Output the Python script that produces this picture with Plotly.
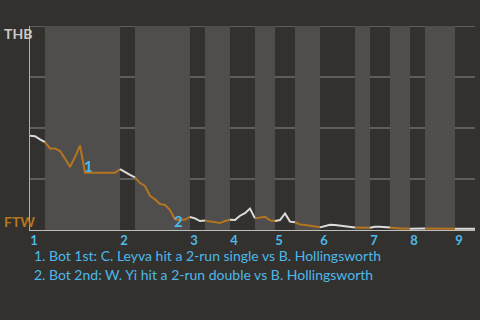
import plotly.graph_objects as go

# Win probability for THB (percent) after each plate appearance
wp = [46.2, 46.0, 44.4, 43.1, 40.0, 40.0, 38.7, 35.0, 30.9, 35.8, 41.4, 28.1,
      28.1, 28.1, 28.1, 28.1, 28.1, 28.1, 29.8, 28.3, 27.0, 25.8, 23.0, 21.6,
      16.7, 15.0, 12.7, 12.3, 9.8, 5.3, 4.9, 5.1, 6.4, 5.7, 4.4, 4.6,
      4.1, 3.6, 3.4, 4.4, 5.0, 4.9, 7.0, 8.2, 10.5, 5.7, 6.0, 6.5,
      4.7, 4.4, 4.9, 8.1, 4.1, 3.8, 2.7, 2.5, 2.2, 1.7, 1.3, 2.1,
      2.6, 2.4, 2.1, 2.1, 1.7, 1.2, 1.1, 1.1, 1.1, 1.6, 1.6, 1.3,
      1.2, 0.8, 0.7, 0.7, 0.6, 0.6, 0.6, 0.7, 0.7, 0.7, 0.7, 0.7,
      0.7, 0.6, 0.6, 0.6, 0.6, 0.6]

# Plate appearances per half inning (top, bottom, ...)
half_pa = [3, 15, 3, 11, 3, 5, 5, 4, 4, 5, 7, 3, 4, 4, 3, 6, 4]
inning_labels = ["1", "2", "3", "4", "5", "6", "7", "8", "9"]

event_labels = ["1", "2"]
event_x = [11.6, 29.6]
event_y = [31.4, 4.4]
notes = ["1. Bot 1st: C. Leyva hit a 2-run single vs B. Hollingsworth",
         "2. Bot 2nd: W. Yi hit a 2-run double vs B. Hollingsworth"]

BG = "#33312d"
LIGHT = "#4f4e4c"
GRID = "#8a8a8a"
WHITE = "#dcdcdc"
ORANGE = "#b5751f"
BLUE = "#4db8ea"
FONT = "Lato"

starts = [0]
for n in half_pa:
    starts.append(starts[-1] + n)

fig = go.Figure()
shapes = []
for i in range(len(half_pa)):
    s, e = starts[i], starts[i + 1]
    if i % 2 == 1:
        shapes.append(dict(type="rect", xref="x", yref="y", x0=s, x1=e, y0=0, y1=100,
                           fillcolor=LIGHT, line=dict(width=0), layer="below"))
for g in [25, 50, 75, 100]:
    shapes.append(dict(type="line", xref="paper", yref="y", x0=0, x1=1, y0=g, y1=g,
                       line=dict(color=GRID, width=1), layer="below"))

for i in range(len(half_pa)):
    s, e = starts[i], starts[i + 1]
    fig.add_trace(go.Scatter(
        x=list(range(s, e + 1)), y=wp[s:e + 1], mode="lines",
        line=dict(color=WHITE if i % 2 == 0 else ORANGE, width=2),
        hoverinfo="skip", showlegend=False))

tickvals = [starts[i] for i in range(0, len(half_pa), 2)]

plot_l, plot_r, plot_t, plot_b = 30, 5, 26, 90
pw, ph = 480 - plot_l - plot_r, 320 - plot_t - plot_b


def px(x):
    return (x - plot_l) / pw


def py(y):
    return (320 - y - plot_b) / ph


annotations = []
for t, x, y in zip(event_labels, event_x, event_y):
    annotations.append(dict(x=x, y=y, xref="x", yref="y", text=t, showarrow=False,
                            font=dict(family=FONT, size=15, color=BLUE, weight="bold")))
annotations.append(dict(x=px(2), y=py(33), xref="paper", yref="paper", xanchor="left", yanchor="middle",
                        text="THB", showarrow=False,
                        font=dict(family=FONT, size=14, color="#c8c8c8", weight="bold")))
annotations.append(dict(x=px(2), y=py(221), xref="paper", yref="paper", xanchor="left", yanchor="middle",
                        text="FTW", showarrow=False,
                        font=dict(family=FONT, size=14, color=ORANGE, weight="bold")))
for j, n in enumerate(notes):
    annotations.append(dict(x=px(32), y=py(255 + 19 * j), xref="paper", yref="paper",
                            xanchor="left", yanchor="middle", text=n, showarrow=False,
                            font=dict(family=FONT, size=14, color=BLUE)))

fig.update_layout(
    width=480, height=320,
    margin=dict(l=plot_l, r=plot_r, t=plot_t, b=plot_b),
    paper_bgcolor=BG, plot_bgcolor=BG,
    shapes=shapes, annotations=annotations,
    xaxis=dict(range=[0, starts[-1]], tickvals=tickvals, ticktext=inning_labels,
               showgrid=False, zeroline=False, showline=True, linecolor="#bdbdbd", linewidth=1,
               ticks="", ticklabelshift=4, ticklabelstandoff=-2,
               tickfont=dict(family=FONT, size=13, color=BLUE, weight="bold"), fixedrange=True),
    yaxis=dict(range=[0, 100], showgrid=False, zeroline=False, showline=True,
               linecolor="#b0b0b0", linewidth=1, showticklabels=False, ticks="", fixedrange=True),
)

fig.write_html("out.html")
